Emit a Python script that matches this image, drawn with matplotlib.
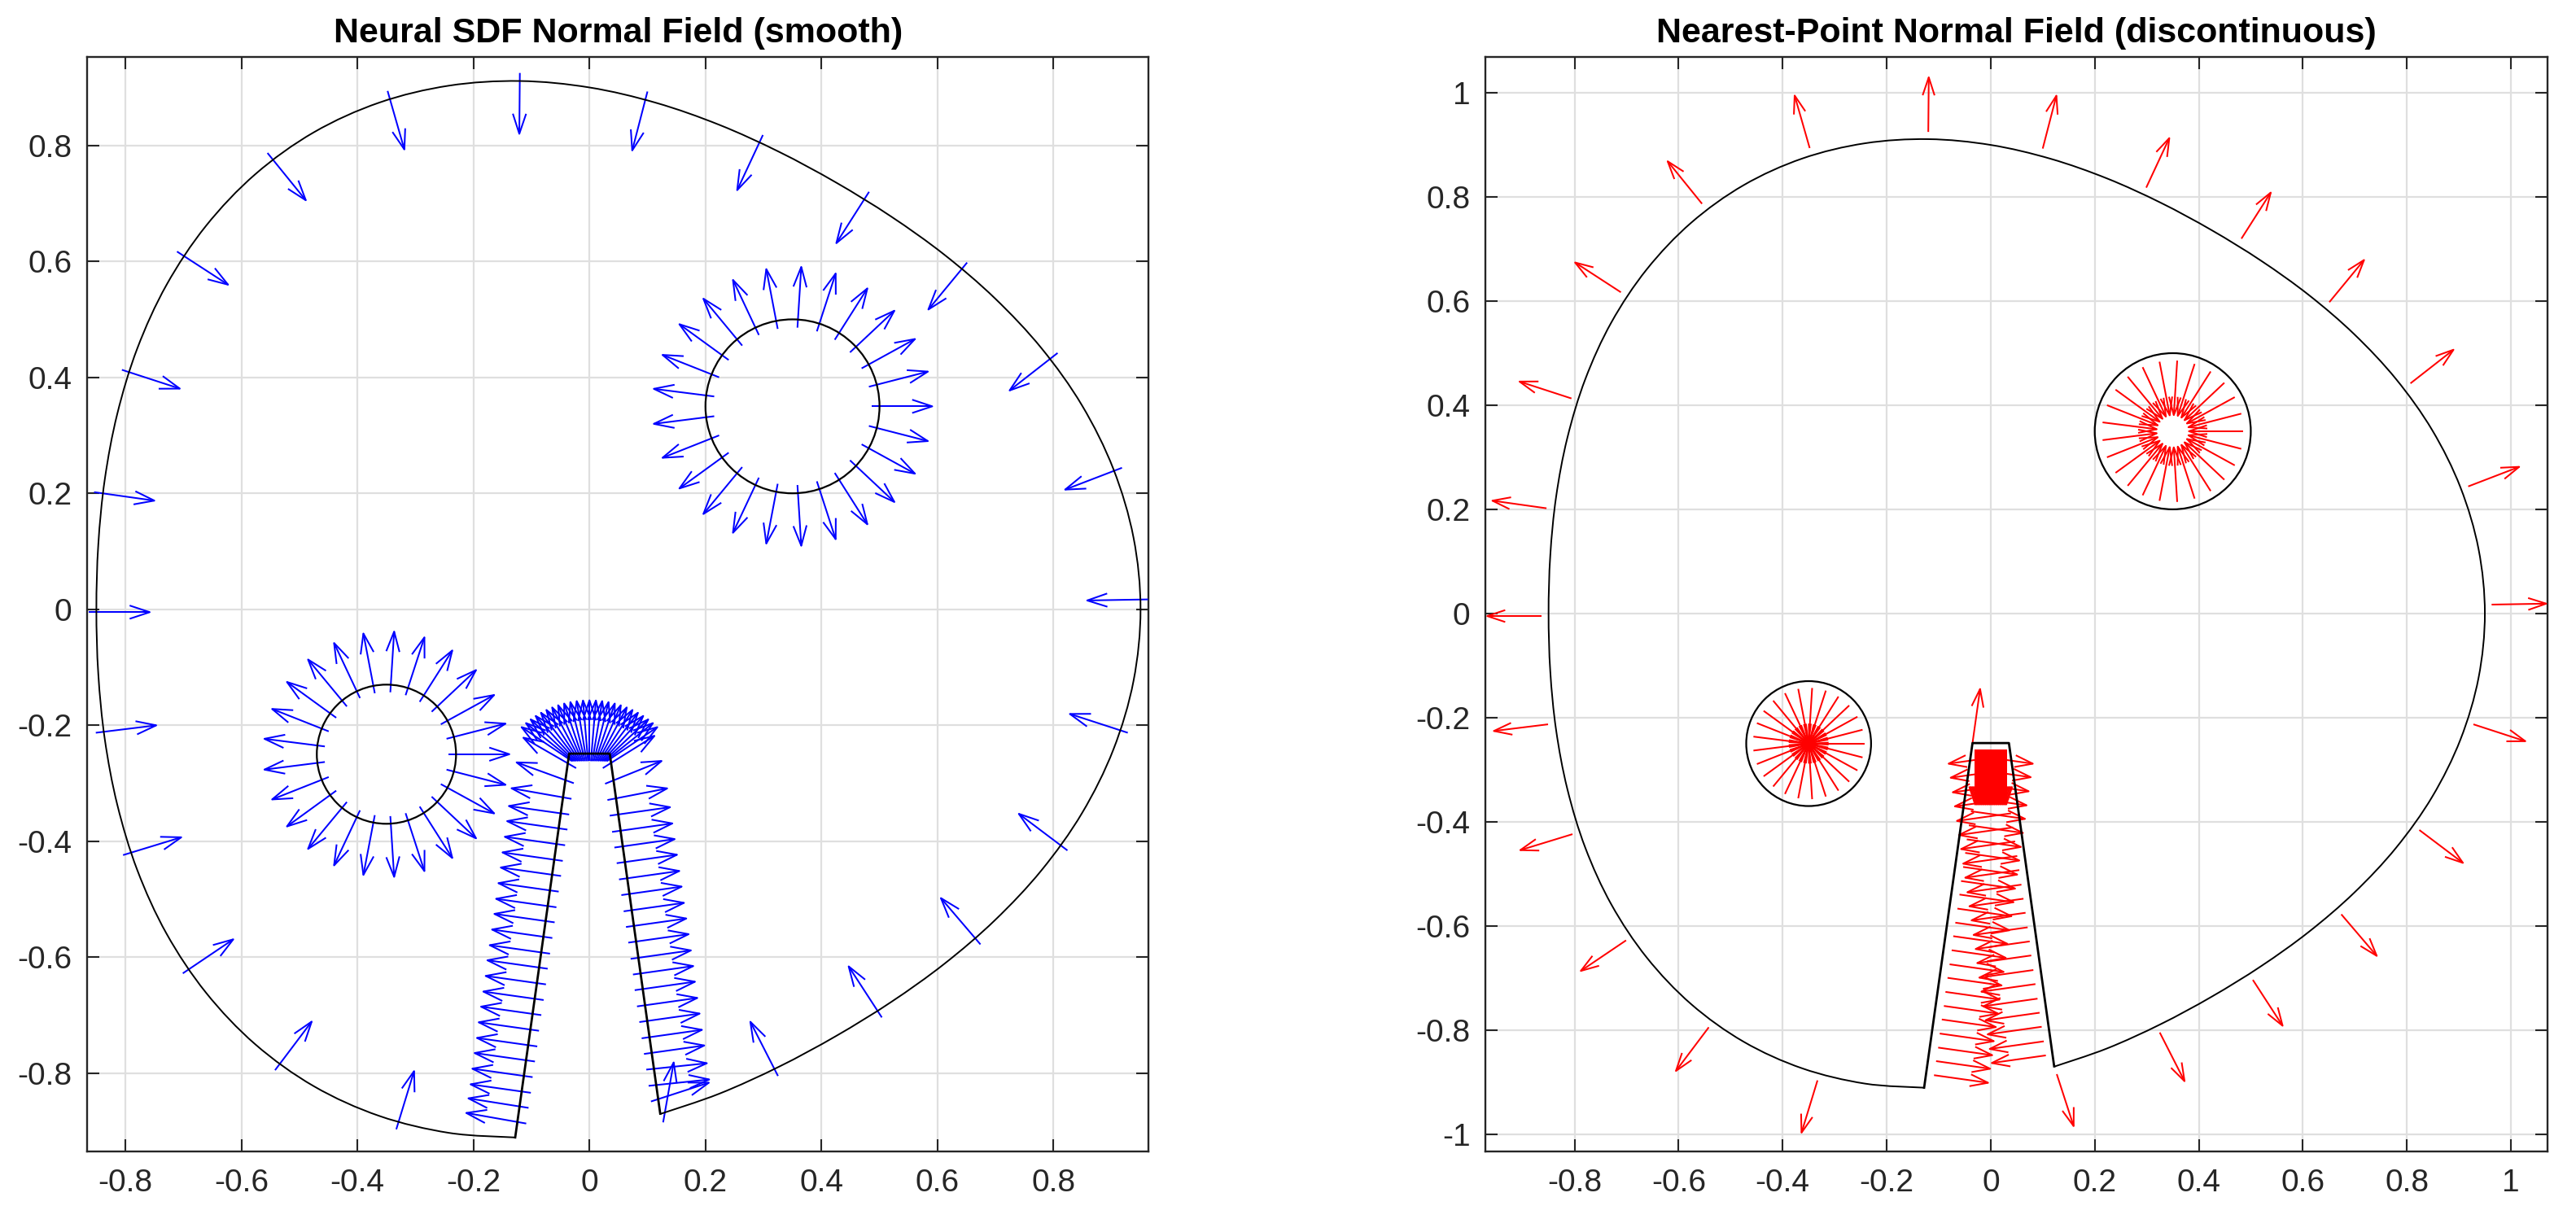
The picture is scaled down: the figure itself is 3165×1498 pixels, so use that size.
import numpy as np
import matplotlib
matplotlib.use("Agg")
import matplotlib.pyplot as plt
from matplotlib.collections import LineCollection
from matplotlib.patches import Circle, PathPatch
from matplotlib.path import Path

plt.rcParams['font.family'] = ['Liberation Sans', 'DejaVu Sans']
plt.rcParams['axes.unicode_minus'] = False

# outer boundary, polar samples going ccw from the right slot corner
blob_deg = [278, 285, 292.5, 300, 307.5, 315, 322.5, 330, 337.5, 345, 352.5,
            0, 7.5, 15, 22.5, 30, 37.5, 45, 52.5, 60, 67.5, 75, 82.5, 90,
            97.5, 105, 112.5, 120, 127.5, 135, 142.5, 150, 157.5, 165, 172.5,
            180, 187.5, 195, 202.5, 210, 217.5, 225, 232.5, 240, 247.5, 255, 262]
blob_r = [0.879, 0.865, 0.854, 0.850, 0.854, 0.865, 0.881, 0.900, 0.919, 0.935, 0.946,
          0.950, 0.946, 0.935, 0.919, 0.900, 0.881, 0.865, 0.854, 0.850, 0.854, 0.865,
          0.881, 0.900, 0.919, 0.935, 0.946, 0.950, 0.946, 0.935, 0.919, 0.900, 0.881,
          0.865, 0.854, 0.850, 0.854, 0.865, 0.881, 0.900, 0.919, 0.935, 0.946, 0.950,
          0.946, 0.935, 0.920]

# slot (notch) polygon
slot_x = [-0.128, -0.035, 0.035, 0.122]
slot_y = [-0.911, -0.249, -0.249, -0.870]

# holes
circle_cx = [0.35, -0.35]
circle_cy = [0.35, -0.25]
circle_r = [0.15, 0.12]
circle_tail_r = [0.136, 0.107]
circle_deg = [0, 14.4, 28.8, 43.2, 57.6, 72, 86.4, 100.8, 115.2, 129.6, 144, 158.4,
              172.8, 187.2, 201.6, 216, 230.4, 244.8, 259.2, 273.6, 288, 302.4,
              316.8, 331.2, 345.6]

# samples around the outer boundary
outer_x = [0.963, 0.918, 0.807, 0.651, 0.482, 0.299, 0.100, -0.120, -0.348, -0.555,
           -0.711, -0.806, -0.854, -0.863, -0.851, -0.804, -0.701, -0.542, -0.333,
           0.127, 0.325, 0.504, 0.674, 0.824, 0.928]
outer_y = [0.017, 0.244, 0.442, 0.598, 0.720, 0.818, 0.893, 0.925, 0.894, 0.787,
           0.617, 0.413, 0.202, -0.005, -0.213, -0.424, -0.628, -0.795, -0.897,
           -0.885, -0.805, -0.704, -0.578, -0.416, -0.213]
outer_smooth = [181, 201, 218, 230.5, 237.5, 245, 255.5, 269.5, 286, 309, 327, 342, 352,
                0, 7, 17, 34, 53, 73, 80, 117, 123, 130.5, 143, 162]
outer_nearest = [1, 21, 38, 50.5, 57.5, 65, 75.5, 89.5, 106, 129, 147, 162, 172, 180,
                 187, 197, 214, 233, 253, -72, -63, -57, -49.5, -37, -18]

# samples along the slot walls
lw_x = [-0.023, -0.027, -0.031, -0.035, -0.038, -0.042, -0.046, -0.049, -0.053, -0.057,
        -0.060, -0.064, -0.068, -0.072, -0.075, -0.079, -0.083, -0.087, -0.090, -0.094,
        -0.098, -0.101, -0.105, -0.109]
lw_y = [-0.274, -0.300, -0.327, -0.354, -0.380, -0.407, -0.434, -0.460, -0.487, -0.514,
        -0.540, -0.567, -0.594, -0.620, -0.647, -0.674, -0.700, -0.727, -0.754, -0.780,
        -0.807, -0.834, -0.860, -0.887]
lw_smooth = [150, 160, 170, 172, 172, 172, 172, 172, 172, 172, 172, 172, 172, 172, 172,
             172, 172, 172, 172, 172, 172, 172, 171, 170]
lw_nearest = [-8, -8, -8, -8, -8, -8, -8, -8, -8, -8, -8, -8, -8, -8, -8, -8, -8, -8,
              -8, -8, -8, -8, -8, -8]
rw_x = [0.023, 0.027, 0.031, 0.035, 0.039, 0.043, 0.047, 0.051, 0.055, 0.059, 0.063,
        0.067, 0.071, 0.075, 0.078, 0.082, 0.086, 0.090, 0.094, 0.098, 0.102, 0.106]
rw_y = [-0.274, -0.301, -0.329, -0.356, -0.384, -0.411, -0.438, -0.466, -0.493, -0.521,
        -0.548, -0.575, -0.603, -0.630, -0.657, -0.685, -0.712, -0.740, -0.767, -0.794,
        -0.822, -0.849]
rw_smooth = [32, 22, 11, 8, 8, 8, 8, 8, 8, 8, 8, 8, 8, 8, 8, 8, 8, 8, 8, 6, 6, 18]
rw_nearest = [188, 188, 188, 188, 188, 188, 188, 188, 188, 188, 188, 188, 188, 188,
              188, 188, 188, 188, 188, 188, 188, 188]

# samples under the slot top
fan_x = [-0.030, -0.0275, -0.025, -0.0225, -0.020, -0.0175, -0.015, -0.0125, -0.010,
         -0.0075, -0.005, -0.0025, 0.0, 0.0025, 0.005, 0.0075, 0.010, 0.0125, 0.015,
         0.0175, 0.020, 0.0225, 0.025, 0.0275, 0.030]
fan_y = [-0.262] * 25
fan_smooth = [146, 141.3, 136.7, 132, 127.3, 122.7, 118, 113.3, 108.7, 104, 99.3, 94.7,
              90, 85.3, 80.7, 76, 71.3, 66.7, 62, 57.3, 52.7, 48, 43.3, 38.7, 34]
fan_nearest = [270] * 25

corner_x = [-0.035]
corner_y = [-0.249]
corner_nearest = [82]

ARROW_LEN = 0.105
HEAD = 0.33
SPREAD = 0.33


def arrow_segments(x, y, deg, length=ARROW_LEN):
    x = np.asarray(x, float)
    y = np.asarray(y, float)
    a = np.deg2rad(np.asarray(deg, float))
    u = length * np.cos(a)
    v = length * np.sin(a)
    hx, hy = x + u, y + v
    segs = []
    for i in range(len(x)):
        segs.append([(x[i], y[i]), (hx[i], hy[i])])
        segs.append([(hx[i] - HEAD * (u[i] + SPREAD * v[i]), hy[i] - HEAD * (v[i] - SPREAD * u[i])),
                     (hx[i], hy[i]),
                     (hx[i] - HEAD * (u[i] - SPREAD * v[i]), hy[i] - HEAD * (v[i] + SPREAD * u[i]))])
    return segs


def circle_samples(flip):
    xs, ys, ds = [], [], []
    for cx, cy, rt in zip(circle_cx, circle_cy, circle_tail_r):
        for d in circle_deg:
            xs.append(cx + rt * np.cos(np.deg2rad(d)))
            ys.append(cy + rt * np.sin(np.deg2rad(d)))
            ds.append(d + 180 if flip else d)
    return xs, ys, ds


def smooth_path(px, py):
    # Catmull-Rom through the boundary samples, drawn as cubic Bezier pieces
    p = np.column_stack([px, py])
    ext = np.vstack([p[0], p, p[-1]])
    verts = [p[0]]
    codes = [Path.MOVETO]
    for i in range(1, len(ext) - 2):
        c1 = ext[i] + (ext[i + 1] - ext[i - 1]) / 6.0
        c2 = ext[i + 1] - (ext[i + 2] - ext[i]) / 6.0
        verts += [c1, c2, ext[i + 1]]
        codes += [Path.CURVE4] * 3
    return Path(verts, codes)


def draw_geometry(ax):
    t = np.deg2rad(blob_deg)
    path = smooth_path(np.array(blob_r) * np.cos(t), np.array(blob_r) * np.sin(t))
    ax.add_patch(PathPatch(path, fill=False, ec='black', lw=1.4, zorder=4))
    ax.plot(slot_x, slot_y, color='black', lw=2.0, zorder=4)
    for cx, cy, r in zip(circle_cx, circle_cy, circle_r):
        ax.add_patch(Circle((cx, cy), r, fill=False, ec='black', lw=1.6, zorder=4))


def style(ax, xt, yt, xlim, ylim, title):
    ax.set_xlim(xlim)
    ax.set_ylim(ylim)
    ax.set_xticks(xt)
    ax.set_yticks(yt)
    ax.set_xticklabels(['%g' % t for t in xt])
    ax.set_yticklabels(['%g' % t for t in yt])
    ax.grid(True, color='#dfdfdf', linewidth=1.6)
    ax.set_axisbelow(True)
    ax.tick_params(direction='in', length=11, width=1.5, top=True, right=True,
                   labelsize=28, colors='#262626')
    ax.tick_params(axis='x', pad=15)
    ax.tick_params(axis='y', pad=13.5)
    for s in ax.spines.values():
        s.set_linewidth(1.7)
        s.set_color('#262626')
    ax.set_title(title, fontsize=31, fontweight='bold', pad=13)


fig = plt.figure(figsize=(31.65, 14.98), dpi=100)
ax1 = fig.add_axes([0.03381, 0.05521, 0.41210, 0.89806])
ax2 = fig.add_axes([0.57672, 0.05521, 0.41213, 0.89806])

# smooth field
segs = arrow_segments(outer_x, outer_y, outer_smooth)
segs += arrow_segments(lw_x, lw_y, lw_smooth)
segs += arrow_segments(rw_x, rw_y, rw_smooth)
segs += arrow_segments(fan_x, fan_y, fan_smooth)
cx, cy, cd = circle_samples(False)
segs += arrow_segments(cx, cy, cd)
ax1.add_collection(LineCollection(segs, colors='blue', linewidths=1.45, zorder=3))
draw_geometry(ax1)
style(ax1, [-0.8, -0.6, -0.4, -0.2, 0, 0.2, 0.4, 0.6, 0.8],
      [-0.8, -0.6, -0.4, -0.2, 0, 0.2, 0.4, 0.6, 0.8],
      (-0.866, 0.964), (-0.9356, 0.9526), 'Neural SDF Normal Field (smooth)')

# nearest-point field
segs = arrow_segments(outer_x, outer_y, outer_nearest)
segs += arrow_segments(lw_x, lw_y, lw_nearest)
segs += arrow_segments(rw_x, rw_y, rw_nearest)
segs += arrow_segments(fan_x, fan_y, fan_nearest)
segs += arrow_segments(corner_x, corner_y, corner_nearest)
cx, cy, cd = circle_samples(True)
segs += arrow_segments(cx, cy, cd)
ax2.add_collection(LineCollection(segs, colors='red', linewidths=1.45, zorder=3))
draw_geometry(ax2)
style(ax2, [-0.8, -0.6, -0.4, -0.2, 0, 0.2, 0.4, 0.6, 0.8, 1],
      [-1, -0.8, -0.6, -0.4, -0.2, 0, 0.2, 0.4, 0.6, 0.8, 1],
      (-0.971, 1.070), (-1.034, 1.069), 'Nearest-Point Normal Field (discontinuous)')

fig.savefig('out.png', dpi=100)
